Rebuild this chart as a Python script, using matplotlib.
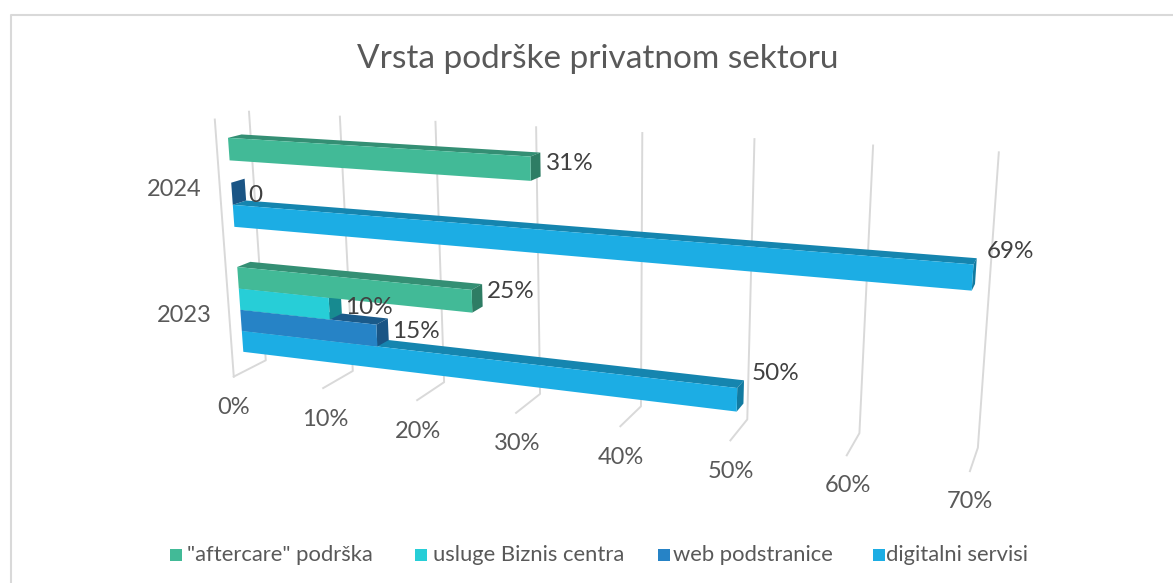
import numpy as np
import matplotlib
matplotlib.use('Agg')
import matplotlib.pyplot as plt

# --- data ---
years = ['2024', '2023']
series = ['"aftercare" podrška', 'usluge Biznis centra', 'web podstranice', 'digitalni servisi']
aftercare = [31, 25]
biznis = [None, 10]
web = [0, 15]
digital = [69, 50]
value_labels = [['31%', '', '0', '69%'], ['25%', '10%', '15%', '50%']]
ticks = [0, 10, 20, 30, 40, 50, 60, 70]

front_col = ['#42BA97', '#27CED7', '#2683C6', '#1CADE4']
top_col = ['#348F74', '#1D9AA1', '#1A5A8A', '#1585AF']
side_col = ['#2E7D64', '#178A90', '#1A5585', '#127BA1']

GAP = 1.85
Y_TOP = -GAP / 2
Y_BOT = 2 * (4 + GAP) - GAP / 2
BAR_DEPTH = 1.2

# 3d box -> picture pixels, fitted on points
calib = [
    (0, 0, 0, 227.5, 138.5), (31, 0, 0, 530, 156.7), (31, 1, 0, 531, 181),
    (69, 3, 0, 973, 265), (69, 4, 0, 972, 291), (50, 9.85, 0, 737, 412),
    (0, 9.85, 0, 243, 352.5), (25, 5.85, 0, 471.7, 290), (0, 0, 1, 240, 135),
    (31, 0, 1, 539.3, 152.7), (69, 3, 1, 976, 259), (50, 8.85, 1, 743, 380.7),
    (0, Y_BOT, -1, 234, 376), (0, Y_BOT, 2, 265.7, 360), (0, Y_TOP, -1, 214.7, 119),
    (0, Y_TOP, 2, 249, 112), (30, Y_BOT, -1, 516, 413), (30, Y_BOT, 2, 540, 394),
    (30, Y_TOP, 2, 535.7, 127), (70, Y_BOT, -1, 970, 470.7), (70, Y_BOT, 2, 977.7, 448.3),
    (70, Y_TOP, 2, 999, 152),
]
A, b = [], []
for v, y, z, px, py in calib:
    A.append([v, y, z, 1, 0, 0, 0, 0, -px * v, -px * y, -px * z])
    b.append(px)
    A.append([0, 0, 0, 0, v, y, z, 1, -py * v, -py * y, -py * z])
    b.append(py)
P = np.append(np.linalg.lstsq(np.array(A), np.array(b), rcond=None)[0], 1).reshape(3, 4)


def proj(v, y, z):
    q = P @ np.array([v, y, z, 1.0])
    return q[0] / q[2], q[1] / q[2]


def face(ax, pts, color, zorder):
    xy = np.array([proj(*p) for p in pts])
    ax.fill(xy[:, 0], xy[:, 1], color=color, lw=0, zorder=zorder)


plt.rcParams['font.family'] = ['Lato', 'DejaVu Sans']
fig = plt.figure(figsize=(11.73, 5.83), dpi=100)
ax = fig.add_axes([0, 0, 1, 1])
ax.set_xlim(0, 1173)
ax.set_ylim(583, 0)
ax.axis('off')

# chart border, cut off on the right and at the bottom
ax.plot([11, 11, 1173], [583, 15, 15], color='#D9D9D9', lw=1.5)

# grid
grid = '#D9D9D9'
for t in ticks:
    pts = [proj(t, Y_BOT, -1), proj(t, Y_BOT, 2), proj(t, Y_TOP, 2)]
    ax.plot([p[0] for p in pts], [p[1] for p in pts], color=grid, lw=1.4, zorder=1)
pts = [proj(0, Y_BOT, -1), proj(0, Y_TOP, -1)]
ax.plot([p[0] for p in pts], [p[1] for p in pts], color=grid, lw=1.4, zorder=1)

# bars, lower rows first so upper ones sit on top
rows = [aftercare, biznis, web, digital]
zo = 2
for g in [1, 0]:
    for s in [3, 2, 1, 0]:
        val = rows[s][g]
        if val is None:
            continue
        y0 = g * (4 + GAP) + s
        y1 = y0 + 1
        d = BAR_DEPTH
        face(ax, [(0, y0, 0), (val, y0, 0), (val, y0, d), (0, y0, d)], top_col[s], zo)
        face(ax, [(val, y0, 0), (val, y0, d), (val, y1, d), (val, y1, 0)], side_col[s], zo)
        face(ax, [(0, y0, 0), (val, y0, 0), (val, y1, 0), (0, y1, 0)], front_col[s], zo)
        zo += 1

# value labels
label_pos = [[(570, 163), None, (255, 196), (1011, 251)], [(511, 292), (369, 307), (416, 332), (776, 374)]]
for g in range(2):
    for s in range(4):
        if label_pos[g][s]:
            ax.text(*label_pos[g][s], value_labels[g][s], fontsize=17.5, color='#404040',
                    ha='center', va='center', zorder=20)

# axis labels
tick_pos = [(234, 407), (325, 419), (418, 431), (517, 444), (621, 457), (731, 471), (848, 485), (970, 502)]
for t, p in zip(ticks, tick_pos):
    ax.text(*p, f'{t}%', fontsize=17, color='#595959', ha='center', va='center')
ax.text(174, 189, years[0], fontsize=17, color='#595959', ha='center', va='center')
ax.text(184, 316, years[1], fontsize=17, color='#595959', ha='center', va='center')

ax.text(598, 59.5, 'Vrsta podrške privatnom sektoru', fontsize=24, color='#595959', ha='center', va='center')

# legend
sq_x = [170, 415, 658, 873]
txt_x = [187, 433, 673, 886]
for s in range(4):
    ax.fill([sq_x[s], sq_x[s] + 12, sq_x[s] + 12, sq_x[s]], [549, 549, 561, 561], color=front_col[s], lw=0)
    ax.text(txt_x[s], 555, series[s], fontsize=15.8, color='#595959', ha='left', va='center')

fig.savefig('out.png', dpi=100)
